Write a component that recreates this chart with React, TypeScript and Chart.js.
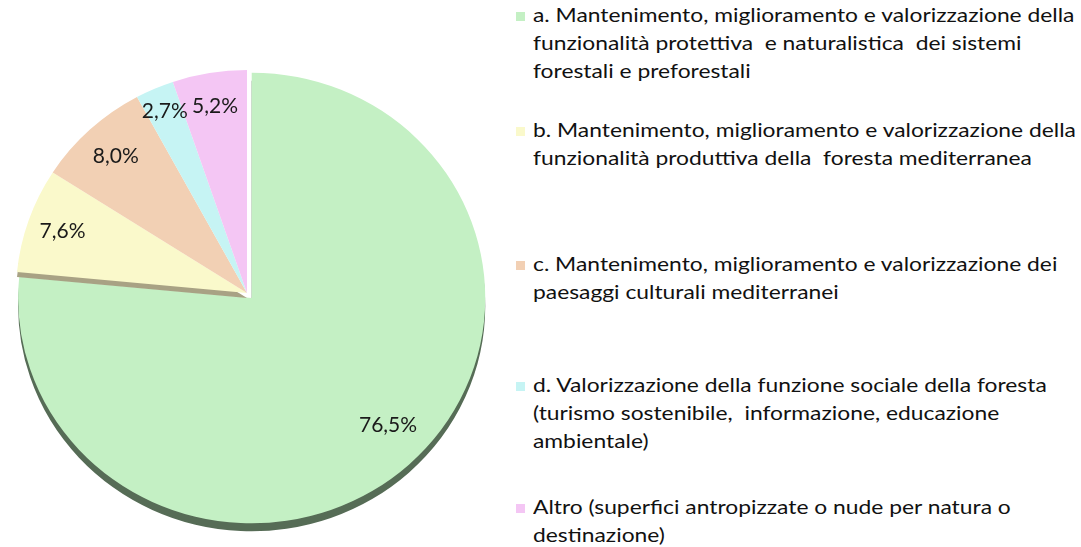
import React, { useEffect, useRef, useMemo } from "react";
import { Chart, registerables } from "chart.js";

Chart.register(...registerables);

// ---- data ----
const categories = [
  "a. Mantenimento, miglioramento e valorizzazione della funzionalità protettiva e naturalistica dei sistemi forestali e preforestali",
  "b. Mantenimento, miglioramento e valorizzazione della funzionalità produttiva della foresta mediterranea",
  "c. Mantenimento, miglioramento e valorizzazione dei paesaggi culturali mediterranei",
  "d. Valorizzazione della funzione sociale della foresta (turismo sostenibile, informazione, educazione ambientale)",
  "Altro (superfici antropizzate o nude per natura o destinazione)",
];
const legendLines = [
  ["a. Mantenimento, miglioramento e valorizzazione della", "funzionalità protettiva  e naturalistica  dei sistemi", "forestali e preforestali"],
  ["b. Mantenimento, miglioramento e valorizzazione della", "funzionalità produttiva della  foresta mediterranea"],
  ["c. Mantenimento, miglioramento e valorizzazione dei", "paesaggi culturali mediterranei"],
  ["d. Valorizzazione della funzione sociale della foresta", "(turismo sostenibile,  informazione, educazione", "ambientale)"],
  ["Altro (superfici antropizzate o nude per natura o", "destinazione)"],
];
const values = [76.5, 7.6, 8.0, 2.7, 5.2];

// ---- styles ----
const sliceColors = [
  "rgb(196,240,196)",
  "rgb(250,249,203)",
  "rgb(242,208,180)",
  "rgb(198,244,244)",
  "rgb(244,198,244)",
];
const wallColors = ["rgb(86,108,86)", "rgb(168,162,132)", "", "", ""];
const wallDepth = [8, 5, 0, 0, 0];
const explode = [7, 0, 0, 0, 0];
const sliceGrow = [1.011, 1, 1, 1, 1];
const labelRadius = [0.82, 0.845, 0.835, 0.89, 0.85];
const labelAngleShift = [-0.065, 0, 0, 0, 0];
const legendBaselines = [23, 138, 272, 393, 515];
const SY = 0.965;
const FONT = "Lato, 'Open Sans', sans-serif";
const LEGEND_SIZE = 20;
const LINE_H = 27.7;
const LEGEND_TEXT_X = 533;
const LEGEND_TARGET_W = 542;

const pieLook = {
  id: "pieLook",
  beforeDatasetsDraw(chart: any) {
    const meta = chart.getDatasetMeta(0);
    const el = meta.data[0];
    if (!el) return;
    const ctx = chart.ctx;
    meta.data.forEach((arc: any, i: number) => {
      if (!arc.__wrapped) {
        const orig = arc.draw.bind(arc);
        arc.draw = (c: CanvasRenderingContext2D, a: any) => {
          c.save();
          const mid = (arc.startAngle + arc.endAngle) / 2;
          const cx = arc.x + Math.cos(mid) * explode[i];
          const cy = arc.y + Math.sin(mid) * explode[i];
          c.translate(cx, cy);
          c.scale(sliceGrow[i], sliceGrow[i]);
          c.translate(-arc.x, -arc.y);
          if (wallDepth[i]) {
            c.shadowColor = wallColors[i];
            c.shadowOffsetX = 0;
            c.shadowOffsetY = wallDepth[i];
            c.shadowBlur = 0;
          }
          orig(c, a);
          c.restore();
        };
        arc.__wrapped = true;
      }
    });
    ctx.save();
    ctx.translate(el.x, el.y);
    ctx.scale(1, SY);
    ctx.translate(-el.x, -el.y);
  },
  afterDatasetsDraw(chart: any) {
    const ctx = chart.ctx;
    ctx.restore();
    const meta = chart.getDatasetMeta(0);
    ctx.save();
    ctx.font = `21px ${FONT}`;
    ctx.fillStyle = "#1a1a1a";
    ctx.textAlign = "center";
    ctx.textBaseline = "middle";
    meta.data.forEach((arc: any, i: number) => {
      const p = arc.getProps(["x", "y", "startAngle", "endAngle", "outerRadius"], true);
      const mid = (p.startAngle + p.endAngle) / 2;
      const ox = Math.cos(mid) * explode[i];
      const oy = Math.sin(mid) * explode[i];
      const a = mid + labelAngleShift[i];
      const d = p.outerRadius * labelRadius[i];
      const x = p.x + ox + Math.cos(a) * d;
      const y = p.y + (oy + Math.sin(a) * d) * SY;
      const txt = values[i].toFixed(1).replace(".", ",") + "%";
      ctx.fillText(txt, x, y);
    });
    ctx.restore();
  },
};

export default function App() {
  const canvasRef = useRef<HTMLCanvasElement | null>(null);

  const scaleX = useMemo(() => {
    try {
      const c = document.createElement("canvas").getContext("2d");
      if (!c) return 1;
      c.font = `${LEGEND_SIZE}px ${FONT}`;
      const w = c.measureText(legendLines[0][0]).width;
      return w > 0 ? LEGEND_TARGET_W / w : 1;
    } catch (e) {
      return 1;
    }
  }, []);

  useEffect(() => {
    if (!canvasRef.current) return;
    const chart = new Chart(canvasRef.current, {
      type: "pie",
      data: {
        labels: categories,
        datasets: [
          {
            data: values,
            backgroundColor: sliceColors,
            borderWidth: 0,
            offset: 0,
            hoverOffset: 0,
          },
        ],
      },
      options: {
        responsive: false,
        animation: false,
        devicePixelRatio: 1,
        events: [],
        layout: { padding: { left: 16, right: 22, top: 62, bottom: 23 } },
        plugins: {
          legend: { display: false },
          tooltip: { enabled: false },
          title: { display: false },
        },
      },
      plugins: [pieLook],
    });
    return () => chart.destroy();
  }, []);

  return (
    <div
      style={{
        position: "fixed",
        left: 0,
        top: 0,
        width: 1081,
        height: 547,
        background: "#ffffff",
        overflow: "hidden",
        fontFamily: FONT,
      }}
    >
      <canvas
        ref={canvasRef}
        width={500}
        height={547}
        style={{ position: "absolute", left: 0, top: 0, width: 500, height: 547 }}
      />
      {legendLines.map((lines, i) => {
        const top = legendBaselines[i] - 21.6;
        return (
          <div key={i}>
            <div
              style={{
                position: "absolute",
                left: 516,
                top: legendBaselines[i] - 11,
                width: 9,
                height: 9,
                background: sliceColors[i],
              }}
            />
            <div
              style={{
                position: "absolute",
                left: LEGEND_TEXT_X,
                top,
                fontSize: LEGEND_SIZE,
                lineHeight: `${LINE_H}px`,
                color: "#111",
                whiteSpace: "pre",
                transform: `scaleX(${scaleX})`,
                transformOrigin: "left top",
              }}
            >
              {lines.map((l, j) => (
                <div key={j}>{l}</div>
              ))}
            </div>
          </div>
        );
      })}
    </div>
  );
}
